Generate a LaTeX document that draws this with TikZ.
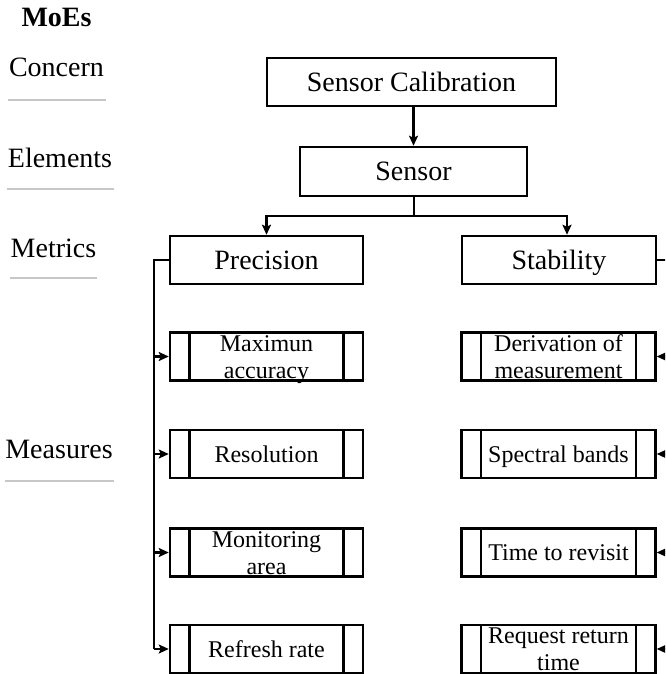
\documentclass[tikz,border=0pt]{standalone}
\usepackage{fontspec}
\setmainfont{Liberation Serif}
\usetikzlibrary{arrows.meta}
\begin{document}
\begin{tikzpicture}[x=1pt,y=-1pt,
  big/.style={font=\fontsize{28}{30}\selectfont},
  lbl/.style={big, anchor=base, inner sep=0pt},
  sepline/.style={draw=black!22, line width=2pt},
  topbox/.style={draw, line width=2.5pt, big, inner sep=0pt, text height=18.5pt, text depth=0pt},
  mbox/.style={draw, line width=2.5pt, minimum width=193pt, minimum height=48pt, inner sep=0pt,
    path picture={
      \draw[line width=2.5pt] ([xshift=19.5pt]path picture bounding box.north west) -- ([xshift=19.5pt]path picture bounding box.south west);
      \draw[line width=2.5pt] ([xshift=-19.5pt]path picture bounding box.north east) -- ([xshift=-19.5pt]path picture bounding box.south east);}},
  mtext/.style={font=\fontsize{24}{27}\selectfont, align=center, inner sep=0pt, text height=16pt, text depth=0pt},
  mtwo/.style={mtext, text height=43pt},
  conn/.style={line width=2.5pt},
  arr/.style={conn, -{Stealth[length=10pt,width=9pt,inset=2pt]}}
]
\useasboundingbox (0,0) rectangle (665,674);
\clip (0,0) rectangle (665,674);

% left legend
\node[lbl, font=\fontsize{28}{30}\selectfont\bfseries] (moes) at (56.5,27) {MoEs};
\node[lbl] (concern) at (56.5,77) {Concern};
\node[lbl] (elements) at (60,167) {Elements};
\node[lbl] (metrics) at (53.5,257) {Metrics};
\node[lbl] (measures) at (59,458) {Measures};
\draw[sepline] (8,100) -- (106,100);
\draw[sepline] (7,189) -- (114,189);
\draw[sepline] (10,278) -- (97,278);
\draw[sepline] (5,481) -- (114,481);

% top boxes
\node[topbox, minimum width=289pt, minimum height=48pt] (cal) at (411.5,82) {Sensor Calibration};
\node[topbox, minimum width=227pt, minimum height=49pt] (sen) at (413.5,171.5) {Sensor};
\node[topbox, minimum width=193pt, minimum height=48pt] (prec) at (266.5,260) {Precision};
\node[topbox, minimum width=194pt, minimum height=48pt] (stab) at (559,260) {Stability};

\draw[arr] (sen.north |- cal.south) -- (sen.north);
\coordinate (jn) at (414,216);
\draw[conn] (sen.south -| jn) -- (jn);
\draw[arr] (jn) -| (prec.north);
\draw[arr] (jn) -| ([xshift=8pt]stab.north);

% measure boxes left
\node[mbox] (m1) at (266.5,356.5) {};
\node[mbox] (m2) at (266.5,454) {};
\node[mbox] (m3) at (266.5,552.5) {};
\node[mbox] (m4) at (266.5,649) {};
\node[mtwo] (m1t) at (m1) {Maximun\\accuracy};
\node[mtext] (m2t) at (m2) {Resolution};
\node[mtwo] (m3t) at (m3) {Monitoring\\area};
\node[mtext] (m4t) at (m4) {Refresh rate};

% measure boxes right
\node[mbox, minimum width=194pt] (s1) at (558.5,356.5) {};
\node[mbox, minimum width=194pt] (s2) at (558.5,454) {};
\node[mbox, minimum width=194pt] (s3) at (558.5,552.5) {};
\node[mbox, minimum width=194pt] (s4) at (558.5,649) {};
\node[mtwo] (s1t) at (s1) {Derivation of\\measurement};
\node[mtext] (s2t) at (s2) {Spectral bands};
\node[mtext] (s3t) at (s3) {Time to revisit};
\node[mtwo] (s4t) at (s4) {Request return\\time};

% left bus
\coordinate (lb) at (154,260);
\draw[conn] (prec.west) -- (lb) -- (lb |- m4.west);
\draw[arr] (lb |- m1.west) -- (m1.west);
\draw[arr] (lb |- m2.west) -- (m2.west);
\draw[arr] (lb |- m3.west) -- (m3.west);
\draw[arr] (lb |- m4.west) -- (m4.west);

% right bus (outside the frame)
\coordinate (rb) at (672,260);
\draw[conn] (stab.east) -- (rb) -- (rb |- s4.east);
\draw[arr] (rb |- s1.east) -- (s1.east);
\draw[arr] (rb |- s2.east) -- (s2.east);
\draw[arr] (rb |- s3.east) -- (s3.east);
\draw[arr] (rb |- s4.east) -- (s4.east);
\end{tikzpicture}
\end{document}
